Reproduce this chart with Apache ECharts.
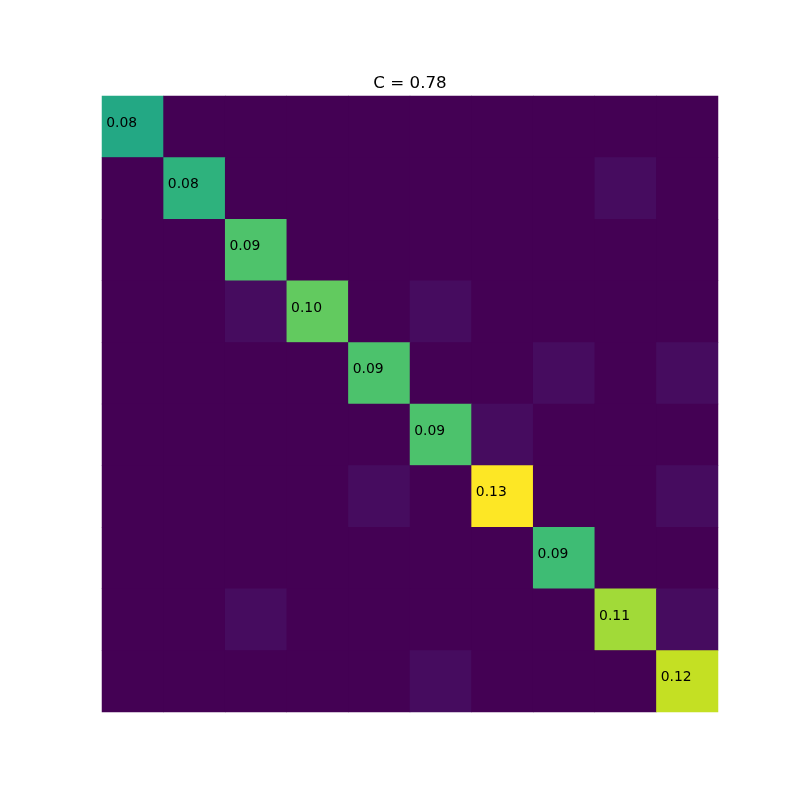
<!DOCTYPE html>
<html>
<head>
<meta charset="utf-8">
<script src="https://cdn.jsdelivr.net/npm/echarts@6/dist/echarts.min.js"></script>
<style>html,body{margin:0;padding:0;background:#fff}#c{width:800px;height:800px}</style>
</head>
<body>
<div id="c"></div>
<script>
const titleText = 'C = 0.78';
const categories = ['0','1','2','3','4','5','6','7','8','9'];
const diagonal = [0.077, 0.081, 0.092, 0.097, 0.0915, 0.0915, 0.128, 0.087, 0.109, 0.1165];
const offDiagonal = [
  [1, 8, 0.004], [3, 2, 0.004], [3, 5, 0.004], [4, 7, 0.004], [4, 9, 0.004],
  [5, 6, 0.004], [6, 4, 0.004], [6, 9, 0.004], [8, 2, 0.004], [8, 9, 0.004],
  [9, 5, 0.004]
];
const viridis = ['#440154','#471365','#482475','#46337f','#414487','#3b528b','#355f8d','#2f6c8e','#2a788e','#25848e','#21918c','#1e9b8a','#22a884','#35b779','#44bf70','#5ec962','#7ad151','#a0da39','#bddf26','#dfe318','#fde725'];

const n = categories.length;
const data = [];
for (let r = 0; r < n; r++) {
  for (let c = 0; c < n; c++) {
    let v = 0;
    if (r === c) v = diagonal[r];
    data.push([c, r, v]);
  }
}
offDiagonal.forEach(([r, c, v]) => { data[r * n + c][2] = v; });
const vmax = Math.max(...data.map(d => d[2]));

const chart = echarts.init(document.getElementById('c'));
chart.setOption({
  animation: false,
  backgroundColor: '#fff',
  title: {
    text: titleText, left: 410, top: 75, textAlign: 'center', padding: 0,
    textStyle: { fontFamily: 'DejaVu Sans', fontSize: 16.7, fontWeight: 'normal', color: '#000' }
  },
  grid: { left: 102, top: 96, width: 616, height: 616, show: true, backgroundColor: '#440154', borderWidth: 0 },
  xAxis: { type: 'category', data: categories, show: false },
  yAxis: { type: 'category', data: categories, inverse: true, show: false },
  visualMap: { show: false, min: 0, max: vmax, dimension: 2, inRange: { color: viridis } },
  series: [{
    type: 'heatmap',
    data: data,
    itemStyle: { borderWidth: 0 },
    emphasis: { disabled: true },
    label: {
      show: true,
      position: [4.5, 27.5],
      align: 'left',
      verticalAlign: 'middle',
      fontFamily: 'DejaVu Sans',
      fontSize: 13.9,
      color: '#000',
      formatter: p => p.value[0] === p.value[1] ? p.value[2].toFixed(2) : ''
    }
  }]
});
</script>
</body>
</html>
